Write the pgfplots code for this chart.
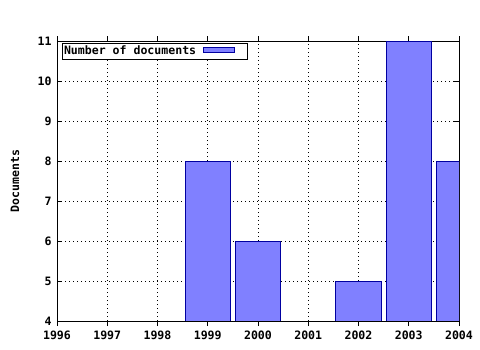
\documentclass[border=0pt]{standalone}
\usepackage{pgfplots}
\pgfplotsset{compat=1.18}
\usepackage{fontspec}
\setmainfont{DejaVu Sans Mono}
\definecolor{barfill}{RGB}{128,128,255}
\definecolor{baredge}{RGB}{0,0,160}
\begin{document}
\begin{tikzpicture}
\useasboundingbox (-57bp,-29bp) rectangle (423bp,321bp);
\begin{axis}[
  at={(0,0)}, anchor=south west,
  scale only axis, width=402bp, height=280bp,
  xmin=1996, xmax=2004, ymin=4, ymax=11,
  xtick={1996,...,2004}, ytick={4,...,11},
  minor x tick num=4,
  tick align=inside,
  major tick length=5bp, minor tick length=3bp,
  /pgf/number format/assume math mode=true,
  xticklabel style={/pgf/number format/1000 sep={}, yshift=-1bp},
  yticklabel style={xshift=-2bp},
  ticklabel style={font=\fontsize{11.6}{13}\selectfont\bfseries},
  grid=major,
  major grid style={black, dash pattern=on 1bp off 3bp, line width=0.8bp},
  axis line style={line width=0.9bp},
  every tick/.style={black, line width=0.8bp},
  ylabel={Documents},
  ylabel style={font=\fontsize{11.6}{13}\selectfont\bfseries, at={(rel axis cs:0,0.5)}, anchor=center, yshift=42bp},
  ybar, bar width=0.9, bar shift=0pt,
  legend style={at={(0,1)}, anchor=north west, xshift=5bp, yshift=-2bp,
    draw=black, line width=0.8bp, inner sep=0pt, outer sep=0pt,
    font=\fontsize{11.6}{13}\selectfont\bfseries,
    legend cell align=left, row sep=0pt,
    nodes={inner xsep=2bp, inner ysep=3bp, text height=8.5bp, text depth=1.5bp},
    /tikz/every even column/.append style={column sep=0pt}},
  legend plot pos=right,
  legend image code/.code={
    \path (0bp,0bp);
    \draw[fill=barfill, draw=baredge, line width=0.8bp] (5bp,-1.5bp) rectangle (36bp,3.9bp);
    \path (48bp,0bp);},
  clip=true,
]
\addplot[fill=barfill, draw=baredge, line width=0.8bp] coordinates {
  (1999,8) (2000,6) (2002,5) (2003,11) (2004,8)
};
\addlegendentry{Number of documents}
\end{axis}
\end{tikzpicture}
\end{document}
